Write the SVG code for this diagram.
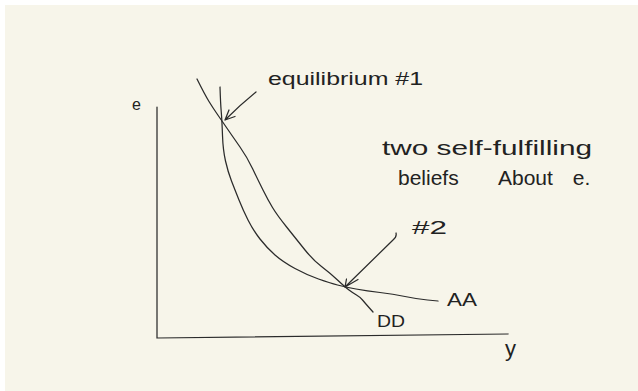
<svg xmlns="http://www.w3.org/2000/svg" width="638" height="391" viewBox="0 0 638 391">
  <style>
    .ink { fill: none; stroke: #2b2b2b; stroke-width: 1.25; stroke-linecap: round; stroke-linejoin: round; }
    .hand { font-family: "Liberation Sans", "DejaVu Sans", sans-serif; fill: #222; }
  </style>
  <rect x="0" y="0" width="638" height="391" fill="#ffffff"/>
  <rect x="5" y="5" width="633" height="386" fill="#f7f5ea"/>

  <g id="axes">
    <path class="ink" d="M157,107 L157,338 L508,334"/>
    <text class="hand" x="132" y="110" font-size="16">e</text>
    <text class="hand" x="505" y="356" font-size="22">y</text>
  </g>

  <g id="curve-DD">
    <path class="ink" d="M197,79 Q205,95 209,101.5 Q213,108 217.5,114.5 Q222,121 227.5,129 Q233,137 240,147 Q247,157 252.5,168.5 Q258,180 263,190 Q268,200 272.5,207.5 Q277,215 287,227.5 Q297,240 305,250 Q313,260 321.5,266.5 Q330,273 337.5,280 Q345,287 349,290 Q353,293 356.5,295 Q360,297 362.5,300 Q365,303 369,307.5 L373,312"/>
    <text class="hand" x="377" y="327" font-size="17" textLength="28" lengthAdjust="spacingAndGlyphs">DD</text>
  </g>

  <g id="curve-AA">
    <path class="ink" d="M220,87 Q220.5,103 221.25,112 Q222,121 222.5,135.5 Q223,150 225.5,161 Q228,172 231.5,181 Q235,190 239,200 Q243,210 248,220 Q253,230 260,239 Q267,248 275,255 Q283,262 295,268.5 Q307,275 318.5,279 Q330,283 337.5,285 Q345,287 356,289 Q367,291 380,292.5 Q393,294 405,296.5 Q417,299 427.5,300 L438,301"/>
    <text class="hand" x="447" y="306" font-size="18" textLength="30" lengthAdjust="spacingAndGlyphs">AA</text>
  </g>

  <g id="label-eq1">
    <text class="hand" x="268" y="85" font-size="18" textLength="155" lengthAdjust="spacingAndGlyphs">equilibrium #1</text>
  </g>

  <g id="label-eq2">
    <text class="hand" x="412" y="234" font-size="18" textLength="35" lengthAdjust="spacingAndGlyphs">#2</text>
  </g>

  <g id="note">
    <text class="hand" x="382" y="155" font-size="21" textLength="210" lengthAdjust="spacingAndGlyphs">two self-fulfilling</text>
    <text class="hand" x="398" y="185" font-size="21" word-spacing="14">beliefs <tspan x="498">About e.</tspan></text>
  </g>

  <g id="connectors">
    <path class="ink" d="M256,92 Q240,105 225,120 M229,110 L225,120 L235,116.5"/>
    <path class="ink" d="M396,233 Q397,237 393,240 L345,287 M346.5,279 L345,287 L358,279.5"/>
  </g>
</svg>
